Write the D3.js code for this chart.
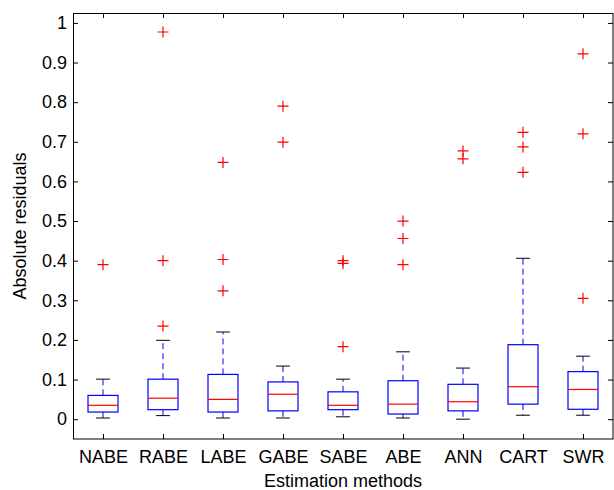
<!DOCTYPE html>
<html>
<head>
<meta charset="utf-8">
<script src="https://cdn.jsdelivr.net/npm/d3@7"></script>
<style>
    body { margin: 0; background: #fff; }
    svg { display: block; }
    text { font-family: "Liberation Sans", Arial, Helvetica, sans-serif; }
</style>
</head>
<body>
<svg id="chart"></svg>
<script>
// values
const categories = ['NABE', 'RABE', 'LABE', 'GABE', 'SABE', 'ABE', 'ANN', 'CART', 'SWR'];
const whiskerLow = [0.003, 0.009, 0.003, 0.003, 0.006, 0.003, 0.000, 0.010, 0.010];
const q1 = [0.018, 0.024, 0.018, 0.021, 0.024, 0.013, 0.021, 0.038, 0.025];
const medians = [0.035, 0.053, 0.050, 0.063, 0.035, 0.038, 0.044, 0.082, 0.075];
const q3 = [0.060, 0.101, 0.113, 0.094, 0.069, 0.097, 0.088, 0.188, 0.120];
const whiskerHigh = [0.101, 0.199, 0.220, 0.134, 0.101, 0.170, 0.129, 0.406, 0.159];
const outliers = [
    [0.390],
    [0.235, 0.400, 0.977],
    [0.324, 0.403, 0.648],
    [0.699, 0.790],
    [0.183, 0.393, 0.400],
    [0.390, 0.456, 0.500],
    [0.657, 0.677],
    [0.623, 0.687, 0.724],
    [0.305, 0.720, 0.922]
];
const yTicks = [0, 0.1, 0.2, 0.3, 0.4, 0.5, 0.6, 0.7, 0.8, 0.9, 1];

(function () {
    const width = 614, height = 490;
    const margin = {top: 13, right: 1, bottom: 51, left: 73};
    const plotW = width - margin.left - margin.right;
    const plotH = height - margin.top - margin.bottom;

    const svg = d3.select('#chart')
        .attr('width', width)
        .attr('height', height);

    const g = svg.append('g')
        .attr('transform', `translate(${margin.left},${margin.top})`);

    const x = d3.scaleLinear()
        .domain([0.5, categories.length + 0.5])
        .range([0, plotW]);

    const y = d3.scaleLinear()
        .domain([-0.05, 1.025])
        .range([plotH, 0]);

    const boxHalf = 0.25;
    const capHalf = 0.115;

    function styleAxis(sel, showLabels) {
        sel.select('.domain').remove();
        sel.selectAll('.tick line').attr('stroke', '#000');
        sel.selectAll('.tick text')
            .attr('fill', '#000')
            .style('font-size', '18px')
            .style('font-family', '"Liberation Sans", Arial, Helvetica, sans-serif');
        if (!showLabels) sel.selectAll('.tick text').remove();
    }

    const idx = categories.map((c, i) => i + 1);

    // axes with inward ticks on all four sides
    g.append('g')
        .call(d3.axisLeft(y).tickValues(yTicks).tickSize(-5).tickPadding(6).tickFormat(d3.format('~g')))
        .call(s => styleAxis(s, true));

    g.append('g')
        .attr('transform', `translate(${plotW},0)`)
        .call(d3.axisRight(y).tickValues(yTicks).tickSize(-5))
        .call(s => styleAxis(s, false));

    g.append('g')
        .attr('transform', `translate(0,${plotH})`)
        .call(d3.axisBottom(x).tickValues(idx).tickSize(-5).tickPadding(11).tickFormat(d => categories[d - 1]))
        .call(s => styleAxis(s, true));

    g.append('g')
        .call(d3.axisTop(x).tickValues(idx).tickSize(-5))
        .call(s => styleAxis(s, false));

    // frame
    g.append('rect')
        .attr('x', 0.5)
        .attr('y', 0.5)
        .attr('width', plotW - 0.5)
        .attr('height', plotH - 0.5)
        .attr('fill', 'none')
        .attr('stroke', '#000')
        .attr('stroke-width', 1);

    const boxes = g.selectAll('.box')
        .data(categories)
        .enter()
        .append('g')
        .attr('class', 'box');

    // whiskers
    boxes.append('line')
        .attr('x1', (d, i) => x(i + 1)).attr('x2', (d, i) => x(i + 1))
        .attr('y1', (d, i) => y(q3[i])).attr('y2', (d, i) => y(whiskerHigh[i]))
        .attr('stroke', '#0000ff').attr('stroke-dasharray', '6,4');
    boxes.append('line')
        .attr('x1', (d, i) => x(i + 1)).attr('x2', (d, i) => x(i + 1))
        .attr('y1', (d, i) => y(q1[i])).attr('y2', (d, i) => y(whiskerLow[i]))
        .attr('stroke', '#0000ff').attr('stroke-dasharray', '6,4');

    // whisker caps
    boxes.append('line')
        .attr('x1', (d, i) => x(i + 1 - capHalf)).attr('x2', (d, i) => x(i + 1 + capHalf))
        .attr('y1', (d, i) => y(whiskerHigh[i])).attr('y2', (d, i) => y(whiskerHigh[i]))
        .attr('stroke', '#000');
    boxes.append('line')
        .attr('x1', (d, i) => x(i + 1 - capHalf)).attr('x2', (d, i) => x(i + 1 + capHalf))
        .attr('y1', (d, i) => y(whiskerLow[i])).attr('y2', (d, i) => y(whiskerLow[i]))
        .attr('stroke', '#000');

    // box
    boxes.append('rect')
        .attr('x', (d, i) => x(i + 1 - boxHalf))
        .attr('y', (d, i) => y(q3[i]))
        .attr('width', (d, i) => x(i + 1 + boxHalf) - x(i + 1 - boxHalf))
        .attr('height', (d, i) => y(q1[i]) - y(q3[i]))
        .attr('fill', 'none')
        .attr('stroke', '#0000ff')
        .attr('stroke-width', 1.2);

    // median
    boxes.append('line')
        .attr('x1', (d, i) => x(i + 1 - boxHalf)).attr('x2', (d, i) => x(i + 1 + boxHalf))
        .attr('y1', (d, i) => y(medians[i])).attr('y2', (d, i) => y(medians[i]))
        .attr('stroke', '#ff0000')
        .attr('stroke-width', 1.2);

    // outliers as red plus signs
    const pts = [];
    outliers.forEach((list, i) => list.forEach(v => pts.push({i: i + 1, v: v})));
    const arm = 5.5;
    g.selectAll('.outlier')
        .data(pts)
        .enter()
        .append('path')
        .attr('class', 'outlier')
        .attr('d', p => {
            const cx = x(p.i), cy = y(p.v);
            return `M${cx - arm},${cy}H${cx + arm}M${cx},${cy - arm}V${cy + arm}`;
        })
        .attr('stroke', '#ff0000')
        .attr('stroke-width', 1.2)
        .attr('fill', 'none');

    // axis titles
    svg.append('text')
        .attr('transform', 'rotate(-90)')
        .attr('x', -(margin.top + plotH / 2))
        .attr('y', 26)
        .attr('text-anchor', 'middle')
        .style('font-size', '18px')
        .text('Absolute residuals');

    svg.append('text')
        .attr('x', margin.left + plotW / 2)
        .attr('y', 487)
        .attr('text-anchor', 'middle')
        .style('font-size', '18px')
        .text('Estimation methods');
})();
</script>
</body>
</html>
